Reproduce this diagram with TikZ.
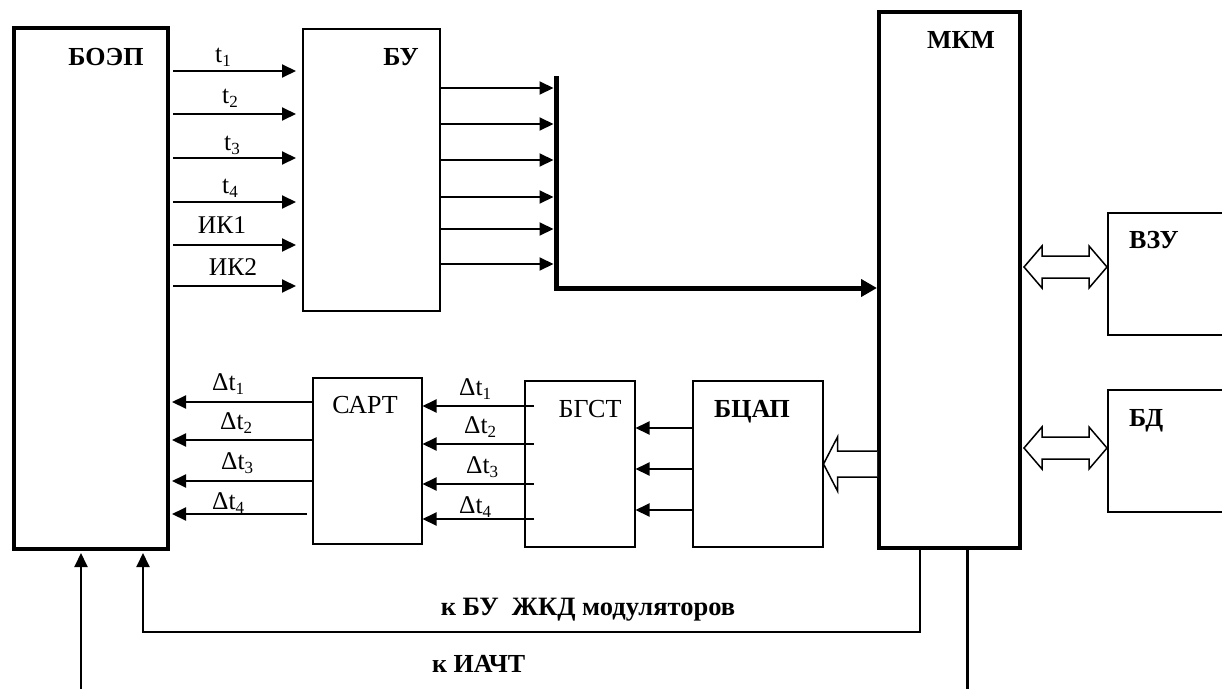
\documentclass[tikz,border=0pt]{standalone}
\usepackage{fontspec}
\setmainfont{Liberation Serif}
\usetikzlibrary{arrows.meta,calc}
\newcommand\subs[1]{\raisebox{-4.5pt}{\fontsize{17}{17}\selectfont #1}}
\tikzset{
  box/.style={draw, line width=1.5pt, inner sep=0pt, anchor=north west},
  thickbox/.style={box, line width=4pt},
  sig/.style={line width=2pt, -{Triangle[length=14pt,width=13pt]}},
  bus/.style={line width=5pt, -{Triangle[length=16pt,width=17pt]}},
  lbl/.style={font=\fontsize{25.5}{27}\selectfont, inner sep=0pt, anchor=base west},
  clbl/.style={lbl, anchor=base},
  blbl/.style={font=\fontsize{26}{28}\selectfont\bfseries, inner sep=0pt, anchor=base},
  wide/.style={line width=1.5pt, fill=white, line join=miter},
}
\begin{document}
\begin{tikzpicture}[x=1pt,y=-1pt]
\path[use as bounding box] (0,0) rectangle (1222,688);
\clip (0,0) rectangle (1222,688);

% blocks
\node[thickbox, minimum width=154pt, minimum height=521pt] (boep) at (12,26) {};
\node[box, minimum width=137pt, minimum height=282pt] (bu) at (302,28) {};
\node[thickbox, minimum width=141pt, minimum height=536pt] (mkm) at (877,10) {};
\node[box, minimum width=123pt, minimum height=122pt] (vzu) at (1107,212) {};
\node[box, minimum width=123pt, minimum height=122pt] (bd) at (1107,389) {};
\node[box, minimum width=109pt, minimum height=166pt] (sart) at (312,377) {};
\node[box, minimum width=110pt, minimum height=166pt] (bgst) at (524,380) {};
\node[box, minimum width=130pt, minimum height=166pt] (bcap) at (692,380) {};

% block titles
\node[blbl] (tboep) at (106,65) {БОЭП};
\node[blbl] (tbu) at (401,65) {БУ};
\node[blbl] (tmkm) at (961,48) {МКМ};
\node[blbl, anchor=base west] (tvzu) at (1129,248) {ВЗУ};
\node[blbl, anchor=base west] (tbd) at (1129,426) {БД};
\node[blbl] (tbcap) at (752,417) {БЦАП};
\node[clbl, font=\fontsize{26}{28}\selectfont] (tsart) at (365,413) {САРТ};
\node[clbl, font=\fontsize{26}{28}\selectfont] (tbgst) at (590,417) {БГСТ};

% BOEP -> BU
\foreach \y in {71,114,158,202,245,286}
  \draw[sig, shorten <=3pt, shorten >=6pt] (boep.east |- 0,\y) -- (bu.west |- 0,\y);
\node[lbl] (lt1) at (215,62) {t\subs{1}};
\node[lbl] (lt2) at (222,103) {t\subs{2}};
\node[lbl] (lt3) at (224,150) {t\subs{3}};
\node[lbl] (lt4) at (222,193) {t\subs{4}};
\node[clbl] (lik1) at (222,233) {ИК1};
\node[clbl] (lik2) at (233,275) {ИК2};

% BU -> bus -> MKM
\coordinate (bustop) at (556,76);
\coordinate (buscorner) at (556,288);
\foreach \y in {88,124,160,197,229,264}
  \draw[sig, shorten >=2.5pt] (bu.east |- 0,\y) -- (bustop |- 0,\y);
\draw[bus] (bustop) -- (buscorner) -- (mkm.west |- buscorner);

% SART -> BOEP
\foreach \y/\s in {402/0,440/0,481/0,514/5}
  \draw[sig, shorten <=\s pt, shorten >=2pt] (sart.west |- 0,\y) -- (boep.east |- 0,\y);
\node[lbl] (ldl1) at (212,390) {Δt\subs{1}};
\node[lbl] (ldl2) at (220,429) {Δt\subs{2}};
\node[lbl] (ldl3) at (221,469) {Δt\subs{3}};
\node[lbl] (ldl4) at (212,509) {Δt\subs{4}};

% BGST -> SART
\foreach \y in {406,444,484,519}
  \draw[sig] ($(bgst.west |- 0,\y)+(10,0)$) -- (sart.east |- 0,\y);
\node[lbl] (ldr1) at (459,395) {Δt\subs{1}};
\node[lbl] (ldr2) at (464,433) {Δt\subs{2}};
\node[lbl] (ldr3) at (466,473) {Δt\subs{3}};
\node[lbl] (ldr4) at (459,513) {Δt\subs{4}};

% BCAP -> BGST
\foreach \y in {428,469,510}
  \draw[sig] (bcap.west |- 0,\y) -- (bgst.east |- 0,\y);

% MKM => BCAP (open arrow)
\coordinate (tip) at (bcap.east |- 0,464);
\draw[wide] (mkm.west |- 0,451) -- ($(tip)+(14,-13)$) -- ($(tip)+(14,-27)$) -- (tip)
  -- ($(tip)+(14,27)$) -- ($(tip)+(14,13)$) -- (mkm.west |- 0,477);

% MKM <=> VZU, BD
\foreach \n/\y in {vzu/267,bd/448}{
  \coordinate (a) at ($(mkm.east |- 0,\y)+(2,0)$);
  \coordinate (b) at (\n.west |- 0,\y);
  \draw[wide] (a) -- ++(18,-21) -- ++(0,10) -- ($(b)+(-18,-11)$) -- ++(0,-10) -- (b)
    -- ++(-18,21) -- ++(0,-10) -- ($(a)+(18,11)$) -- ++(0,10) -- cycle;
}

% bottom connections
\coordinate (in1) at (81,690);
\draw[sig, shorten >=2pt] (in1) -- (boep.south -| in1);
\coordinate (c1) at (920,632);
\coordinate (c2) at (143,632);
\draw[sig, shorten >=2pt, line join=miter] (mkm.south -| c1) -- (c1) -- (c2) -- (boep.south -| c2);
\coordinate (out2) at (967,690);
\draw[line width=3pt] (mkm.south -| out2) -- (out2);

\node[blbl, font=\fontsize{26.5}{28}\selectfont\bfseries] (lbu) at (588,615) {к БУ\ \ ЖКД модуляторов};
\node[blbl, anchor=base west] (liacht) at (432,672) {к ИАЧТ};
\end{tikzpicture}
\end{document}
